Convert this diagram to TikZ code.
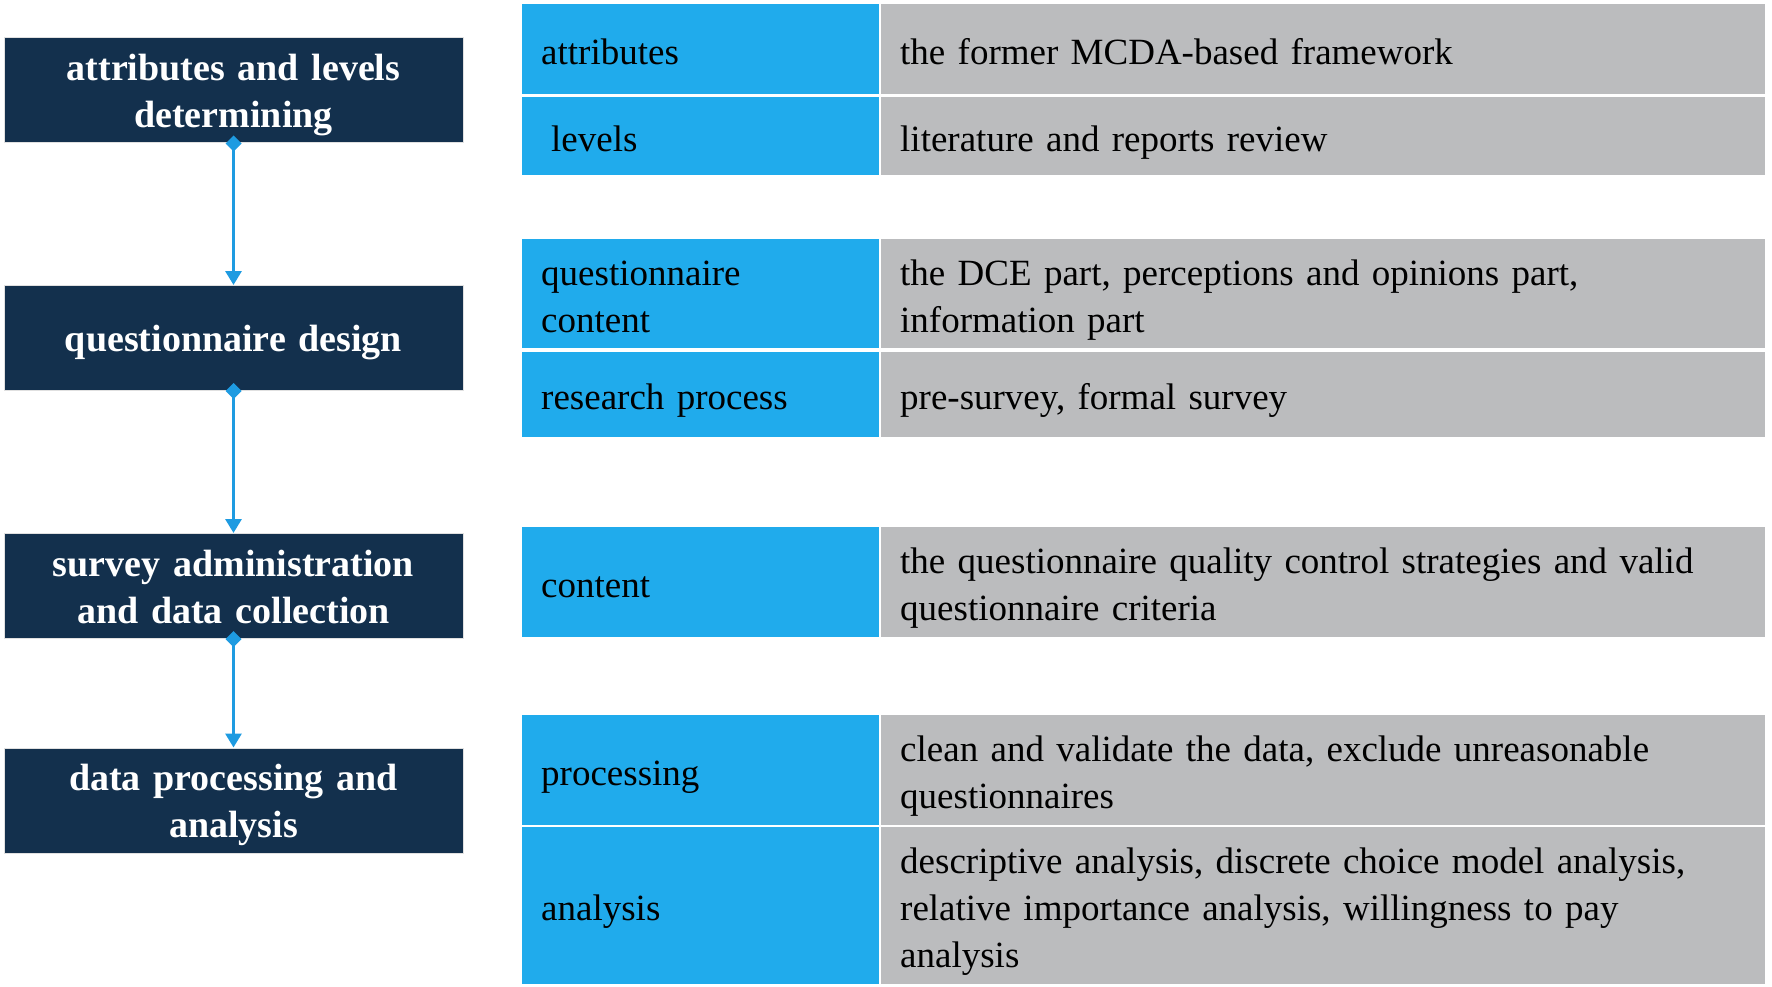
\documentclass[tikz,border=0pt]{standalone}
\usepackage{fontspec}
\setmainfont{Liberation Serif}[WordSpace=1.6]
\usetikzlibrary{arrows.meta,positioning}
\definecolor{StageNavy}{RGB}{19,48,77}
\definecolor{KeyBlue}{RGB}{32,171,236}
\definecolor{DescGray}{RGB}{187,188,190}
\definecolor{FlowBlue}{RGB}{30,155,225}

\begin{document}
\begin{tikzpicture}[x=1pt,y=-1pt,
        stage/.style={rectangle,fill=StageNavy,draw=black!12,line width=1pt,
                   text=white,font=\fontsize{38}{47}\selectfont\bfseries,
                   align=center,text width=459pt,minimum height=105pt,inner sep=0pt,
                   execute at begin node={\rule{0pt}{36pt}},
                   execute at end node={\rule[-9pt]{0pt}{9pt}}},
        keycell/.style={rectangle,fill=KeyBlue,anchor=north west,align=left,
                   text width=319pt,inner xsep=19pt,inner ysep=0pt,
                   font=\fontsize{37}{47}\selectfont,
                   execute at begin node={\rule{0pt}{38pt}},
                   execute at end node={\rule[-8pt]{0pt}{8pt}}},
        desccell/.style={keycell,fill=DescGray,text width=846pt},
        flow/.style={draw=FlowBlue,line width=3pt,
                   {Diamond[length=16pt,width=16pt]}-{Triangle[length=14pt,width=16pt]}}
      ]
        \useasboundingbox (0,0) rectangle (1772,987);
        % stages
        \node[stage] (s1) at (233.5,90.5) {attributes and levels\\determining};
        \node[stage] (s2) at (233.5,338) {questionnaire design};
        \node[stage] (s3) at (233.5,586) {survey administration\\and data collection};
        \node[stage] (s4) at (233.5,800.5) {data processing and\\analysis};
        \draw[flow] ([yshift=8pt]s1.south) -- (s2.north);
        \draw[flow] ([yshift=8pt]s2.south) -- (s3.north);
        \draw[flow] ([yshift=8pt]s3.south) -- (s4.north);
        % table rows
        \node[keycell,minimum height=90pt] (k1) at (522,4) {attributes};
        \node[desccell,minimum height=90pt] (d1) at (881,4) {the former MCDA-based framework};
        \node[keycell,minimum height=78pt] (k2) at (522,97) {\hspace*{10pt}levels};
        \node[desccell,minimum height=78pt] (d2) at (881,97) {literature and reports review};
        \node[keycell,minimum height=109pt] (k3) at (522,239) {questionnaire\\content};
        \node[desccell,minimum height=109pt] (d3) at (881,239) {the DCE part, perceptions and opinions part,\\information part};
        \node[keycell,minimum height=85pt] (k4) at (522,352) {research process};
        \node[desccell,minimum height=85pt] (d4) at (881,352) {pre-survey, formal survey};
        \node[keycell,minimum height=110pt] (k5) at (522,527) {content};
        \node[desccell,minimum height=110pt] (d5) at (881,527) {the questionnaire quality control strategies and valid\\questionnaire criteria};
        \node[keycell,minimum height=110pt] (k6) at (522,715) {processing};
        \node[desccell,minimum height=110pt] (d6) at (881,715) {clean and validate the data, exclude unreasonable\\questionnaires};
        \node[keycell,minimum height=157pt] (k7) at (522,827) {analysis};
        \node[desccell,minimum height=157pt] (d7) at (881,827) {descriptive analysis, discrete choice model analysis,\\relative importance analysis, willingness to pay\\analysis};
      \end{tikzpicture}
\end{document}
